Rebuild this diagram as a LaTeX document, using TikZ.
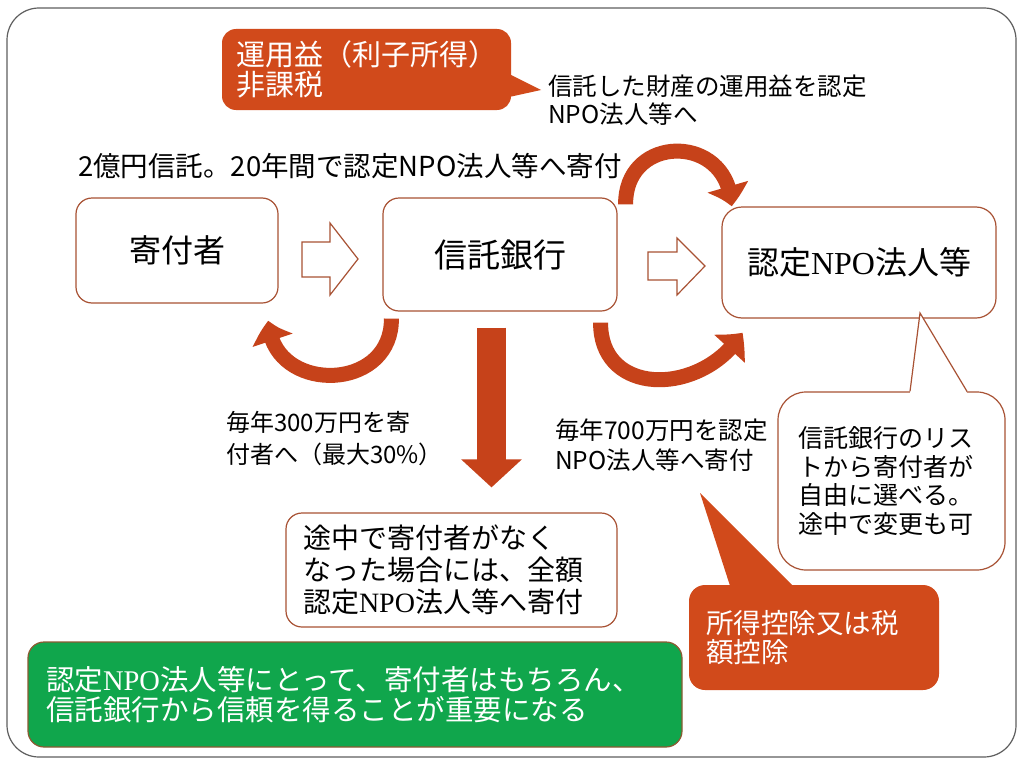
\documentclass[tikz,border=0pt]{standalone}
\usepackage{fontspec}
\setmainfont{Noto Sans CJK JP}
\newfontfamily\lser{Liberation Serif}
\usetikzlibrary{arrows.meta,calc,bending}
\definecolor{orng}{RGB}{209,74,27}
\definecolor{arw}{RGB}{198,66,26}
\definecolor{bdr}{RGB}{168,82,52}
\definecolor{grn}{RGB}{16,166,76}
\definecolor{grnb}{RGB}{140,90,50}
\definecolor{frm}{RGB}{95,95,95}
\tikzset{
  wbox/.style={draw=bdr, line width=1.2pt, fill=white, rounded corners=16pt, inner sep=0pt},
  obox/.style={fill=orng, rounded corners=14pt, text=white, align=left},
  gbox/.style={fill=grn, draw=grnb, line width=1.2pt, rounded corners=16pt, text=white, align=left},
  hollow/.style={draw=bdr, fill=white, line width=1.2pt, line join=miter},
  carrow/.style={draw=arw, line width=15pt, -{Triangle[width=40pt,length=21pt,bend]}},
  darrow/.style={draw=arw, line width=29pt, -{Triangle[width=59pt,length=28pt]}},
  plain/.style={inner sep=0pt, anchor=west, align=left},
}
\begin{document}
\begin{tikzpicture}[x=1pt,y=-1pt]
\fill[white] (0,0) rectangle (1024,768);
\useasboundingbox (0,0) rectangle (1024,768);
\draw[frm, line width=1.2pt, rounded corners=32pt] (7,8) rectangle (1016,757);

% main boxes
\node[wbox, minimum width=202pt, minimum height=105pt, font=\fontsize{32}{36}\selectfont] (donor) at (177,250.5) {寄付者};
\node[wbox, minimum width=234pt, minimum height=113pt, font=\fontsize{33}{36}\selectfont] (bank) at (500,254.5) {信託銀行};
\node[wbox, rounded corners=20pt, minimum width=274pt, minimum height=111pt, font=\fontsize{32}{36}\selectfont] (npo) at (859,262.5) {認定{\lser NPO}法人等};

% hollow arrows
\draw[hollow] (302,242) -- (330,242) -- (330,223) -- (358,259) -- (330,295) -- (330,277) -- (302,277) -- cycle;
\draw[hollow] (648,252) -- (677,252) -- (677,238) -- (705,266) -- (677,295) -- (677,280) -- (648,280) -- cycle;

% title and notes
\node[plain, font=\fontsize{27.5}{30}\selectfont] (title) at (78,166) {2億円信託。20年間で認定NPO法人等へ寄付};
\node[plain, font=\fontsize{24.5}{27.5}\selectfont] (trustnote) at (548,100) {信託した財産の運用益を認定\\NPO法人等へ};
\node[plain, font=\fontsize{24}{32}\selectfont] (note300) at (226,439) {毎年300万円を寄\\付者へ（最大30\%）};
\node[plain, font=\fontsize{24.5}{30}\selectfont] (note700) at (555,445) {毎年700万円を認定\\NPO法人等へ寄付};

% top callout
\node[obox, minimum width=289pt, minimum height=81pt, text width=261pt, inner xsep=14pt, font=\fontsize{29}{30}\selectfont] (gain) at (366.5,69.5) {運用益（利子所得）\\非課税};
\coordinate (gaintip) at (541,90);
\fill[orng] ($(gain.east)+(-2,4.5)$) -- (gaintip) -- ($(gain.east)+(-2,27.5)$) -- cycle;

% curved arrows
\draw[carrow] ($(bank.north east)+(8,7)$) .. controls (625,133) and (730,133) .. ($(npo.north west)+(10,0)$);
\draw[carrow] ($(bank.south west)+(9,7)$) .. controls (392,394) and (270,394) .. ($(donor.south east)+(-10,17)$);
\draw[carrow] ($(bank.south east)+(-17,11)$) .. controls (600,397) and (702,397) .. ($(npo.south west)+(21,14)$);

% middle box and down arrow
\node[wbox, minimum width=331pt, minimum height=114pt, text width=297pt, inner xsep=17pt, align=left, font=\fontsize{28}{32}\selectfont] (mid) at (451.5,570) {途中で寄付者がなく\\なった場合には、全額\\認定{\lser NPO}法人等へ寄付};
\draw[darrow] ($(bank.south)+(-8.5,16)$) -- ($(mid.north)+(40,-25)$);

% right callout
\node[wbox, rounded corners=28pt, minimum width=227pt, minimum height=178pt, text width=187pt, inner xsep=20pt, align=left, font=\fontsize{25}{28.5}\selectfont] (list) at (891.5,481) {信託銀行のリス\\トから寄付者が\\自由に選べる。\\途中で変更も可};
\coordinate (listtip) at (920,313);
\fill[white] ($(list.north)+(18.5,1.5)$) -- (listtip) -- ($(list.north)+(75.5,1.5)$) -- cycle;
\draw[bdr, line width=1.2pt] ($(list.north)+(18.5,0)$) -- (listtip) -- ($(list.north)+(75.5,0)$);

% bottom orange callout
\node[obox, rounded corners=16pt, minimum width=250pt, minimum height=105pt, text width=216pt, inner xsep=17pt, font=\fontsize{27.5}{29}\selectfont] (tax) at (814,637.5) {所得控除又は税\\額控除};
\coordinate (taxtip) at (700,493);
\fill[orng] ($(tax.north)+(-84,1)$) -- (taxtip) -- ($(tax.north)+(-21,1)$) -- cycle;

% green box
\node[gbox, minimum width=654pt, minimum height=105pt, text width=618pt, inner xsep=18pt, font=\fontsize{28.5}{30}\selectfont] (trust) at (355,694.5) {認定{\lser NPO}法人等にとって、寄付者はもちろん、\\信託銀行から信頼を得ることが重要になる};
\end{tikzpicture}
\end{document}
